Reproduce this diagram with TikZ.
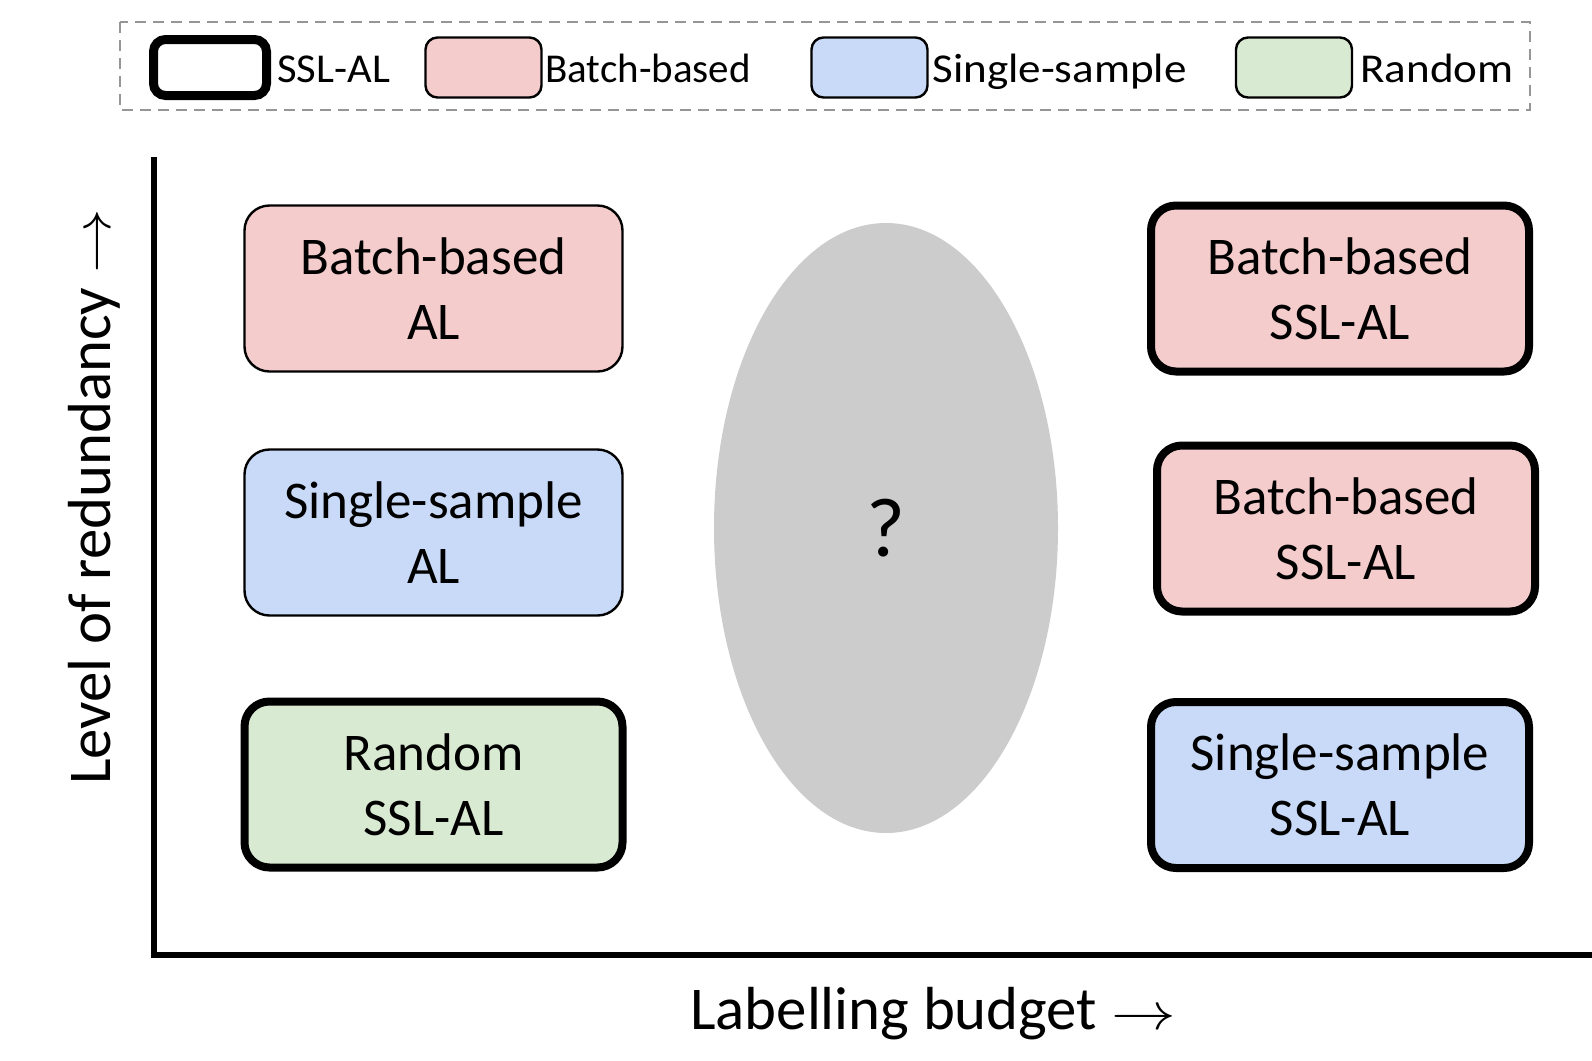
\documentclass[tikz,border=0pt]{standalone}
\usepackage{fontspec}
\setmainfont{Carlito}
\usetikzlibrary{shapes.geometric}
\definecolor{pinkf}{RGB}{244,204,204}
\definecolor{bluef}{RGB}{201,218,248}
\definecolor{greenf}{RGB}{217,234,211}
\definecolor{grayf}{RGB}{204,204,204}
\definecolor{dashc}{RGB}{150,150,150}
\newcommand{\longarr}{\scalebox{1.3}[1.05]{$\rightarrow$}}
\begin{document}
\begin{tikzpicture}[x=0.5pt,y=-0.5pt,
  box/.style={rectangle, rounded corners=12.5pt, minimum width=189pt, minimum height=83pt,
    align=center, inner sep=0pt, draw=black, font=\fontsize{26.5}{32.5}\selectfont},
  thinbox/.style={box, line width=1.2pt},
  thickbox/.style={box, line width=4pt},
  legbox/.style={rectangle, rounded corners=6pt, minimum width=58pt, minimum height=30pt,
    inner sep=0pt, draw=black, line width=1.2pt},
  legtext/.style={anchor=base west, inner sep=0pt, font=\fontsize{20.5}{24}\selectfont},
  axislabel/.style={inner sep=0pt, font=\fontsize{30.4}{36}\selectfont},
  axisline/.style={line width=3pt, line cap=rect}
]
\path[use as bounding box] (0,0) rectangle (1592,1061);
\fill[white] (0,0) rectangle (1592,1061);

% legend frame
\draw[dashc, line width=1pt, dash pattern=on 5.5pt off 3.5pt] (120,22) rectangle (1530,110);

% legend items
\node[legbox, line width=4.5pt, minimum width=56.5pt, minimum height=28pt] (lg1) at (210,67.5) {};
\node[legtext] (lt1) at (277,82) {\scalebox{1.04}[1]{SSL-AL}};
\node[legbox, fill=pinkf] (lg2) at (483.5,67.5) {};
\node[legtext] (lt2) at (545,82) {Batch-based};
\node[legbox, fill=bluef] (lg3) at (869.5,67.5) {};
\node[legtext] (lt3) at (932,82) {\scalebox{1.1}[1]{Single-sample}};
\node[legbox, fill=greenf] (lg4) at (1294,67.5) {};
\node[legtext] (lt4) at (1360,82) {\scalebox{1.1}[1]{Random}};

% axes
\coordinate (origin) at (154,955);
\coordinate (ytop) at (154,160);
\coordinate (xend) at (1592,955);
\draw[axisline] (ytop) -- (origin) -- (xend);

\node[axislabel, rotate=90] (ylab) at (94,497) {Level of redundancy \longarr};
\node[axislabel, anchor=base] (xlab) at (933,1029) {Labelling budget \longarr};

% left column
\node[thinbox, fill=pinkf] (bal) at (433.5,288.5) {Batch-based\\AL};
\node[thinbox, fill=bluef] (sal) at (433.5,532.5) {Single-sample\\AL};
\node[thickbox, fill=greenf] (rssl) at (433.5,784.5) {Random\\SSL-AL};

% right column
\node[thickbox, fill=pinkf] (bssl1) at (1340,288.5) {Batch-based\\SSL-AL};
\node[thickbox, fill=pinkf] (bssl2) at (1346,528.5) {Batch-based\\SSL-AL};
\node[thickbox, fill=bluef] (sssl) at (1340,785) {Single-sample\\SSL-AL};

% ellipse
\node[ellipse, fill=grayf, minimum width=172pt, minimum height=305pt, inner sep=0pt,
  font=\fontsize{42}{48}\selectfont] (q) at (886,528) {?};
\end{tikzpicture}
\end{document}
